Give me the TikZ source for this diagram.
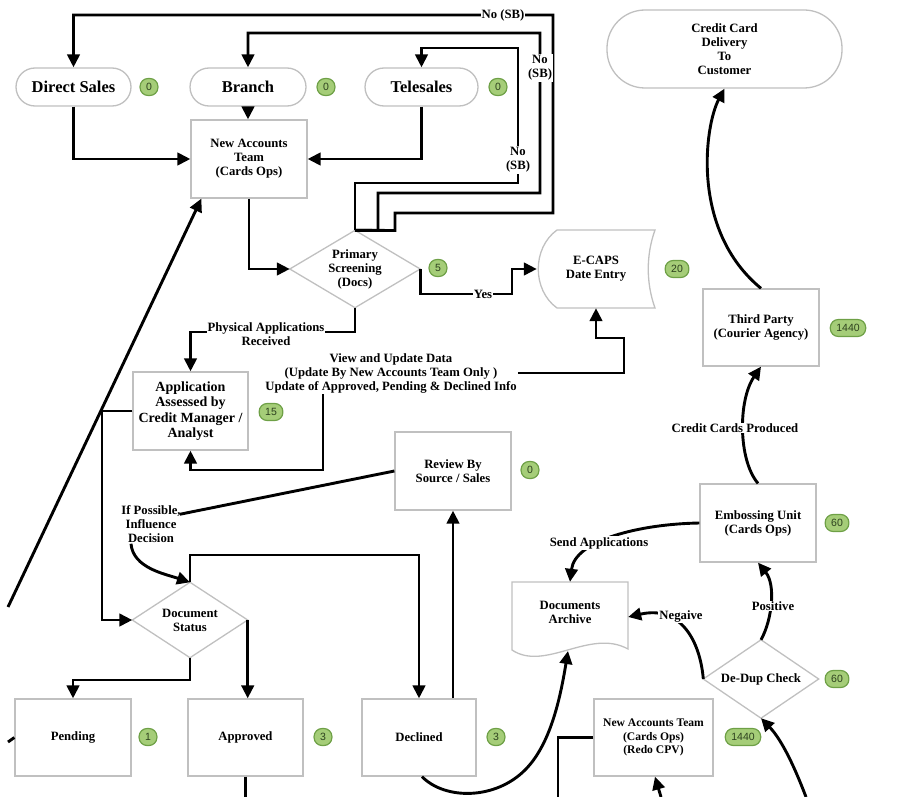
\documentclass[tikz,border=0pt]{standalone}
\usepackage{fontspec}
\setmainfont{Liberation Serif}
\newfontfamily\badgefont{Liberation Sans}
\usetikzlibrary{arrows.meta,calc}
\definecolor{boxgray}{RGB}{192,192,192}
\definecolor{badgefill}{RGB}{165,205,120}
\definecolor{badgeedge}{RGB}{110,160,70}
\definecolor{badgetext}{RGB}{45,65,30}
\tikzset{
  conn/.style={line width=2.9pt, draw=black},
  arr/.style={conn, -{Triangle[length=13pt,width=12.5pt]}},
  boxedge/.style={draw=boxgray, line width=1.3pt},
  stdbox/.style={rectangle, boxedge, fill=white, align=center, inner sep=2pt,
     minimum width=116pt, minimum height=78pt,
     font=\fontsize{12.7}{14}\selectfont\bfseries},
  termbox/.style={stdbox, rounded corners=19pt, minimum height=38pt,
     font=\fontsize{16.5}{18}\selectfont\bfseries},
  shapetext/.style={rectangle, draw=none, align=center, inner sep=0pt,
     font=\fontsize{12.7}{14}\selectfont\bfseries},
  badge/.style={draw=badgeedge, line width=1.2pt, fill=badgefill, rounded corners=8pt,
     minimum height=17pt, minimum width=17pt, inner xsep=6pt, inner ysep=0pt,
     font=\badgefont\fontsize{10.5}{11}\selectfont, text=badgetext},
  lbl/.style={fill=white, inner sep=1pt, align=center,
     font=\fontsize{12.7}{14}\selectfont\bfseries}
}
\begin{document}
\begin{tikzpicture}[x=1pt,y=-1pt]
\useasboundingbox (0,0) rectangle (907,797);

% ---------- terminals ----------
\node[termbox, minimum width=115pt] (ds) at (73.5,87) {Direct Sales};
\node[termbox, minimum width=116pt] (br) at (248,87) {Branch};
\node[termbox, minimum width=113pt] (ts) at (421.5,87) {Telesales};
\node[stdbox, minimum width=235pt, minimum height=78pt, rounded corners=38pt] (ccd) at (724.5,49) {Credit Card\\Delivery\\To\\Customer};

% ---------- boxes ----------
\node[stdbox] (nat) at (249,159) {New Accounts\\Team\\(Cards Ops)};
\node[stdbox, minimum height=77pt] (tp) at (761,327.5) {Third Party\\(Courier Agency)};
\node[stdbox, minimum width=115pt, font=\fontsize{14}{15.5}\selectfont\bfseries] (app) at (190.5,411) {Application\\Assessed by\\Credit Manager /\\Analyst};
\node[stdbox] (rev) at (453,471) {Review By\\Source / Sales};
\node[stdbox] (emb) at (758,523) {Embossing Unit\\(Cards Ops)};
\node[stdbox, minimum height=77pt] (pen) at (73,737.5) {Pending};
\node[stdbox, minimum width=115pt, minimum height=77pt] (apr) at (245.5,737.5) {Approved};
\node[stdbox, minimum width=114pt, minimum height=77pt] (dec) at (419,737.5) {Declined};
\node[stdbox, minimum width=119pt, minimum height=77pt, font=\fontsize{11.6}{13.5}\selectfont\bfseries] (redo) at (653.5,737.5) {New Accounts Team\\(Cards Ops)\\(Redo CPV)};

% ---------- diamonds ----------
\node[shapetext, minimum width=130pt, minimum height=77pt] (ps) at (355,269) {Primary\\Screening\\(Docs)};
\draw[boxedge] (ps.north) -- (ps.east) -- (ps.south) -- (ps.west) -- cycle;
\node[shapetext, minimum width=115pt, minimum height=75pt] (dst) at (190,620) {Document\\Status};
\draw[boxedge] (dst.north) -- (dst.east) -- (dst.south) -- (dst.west) -- cycle;
\node[shapetext, minimum width=115pt, minimum height=78pt] (ded) at (761,679) {De-Dup Check};
\draw[boxedge] (ded.north) -- (ded.east) -- (ded.south) -- (ded.west) -- cycle;

% ---------- stored data (E-CAPS) ----------
\node[shapetext, minimum width=118pt, minimum height=78pt] (ecaps) at (596,269) {E-CAPS\\Date Entry};
\draw[boxedge] (655,230) .. controls (646,255) and (646,283) .. (655,308) -- (557,308)
   .. controls (532,290) and (532,248) .. (557,230) -- cycle;

% ---------- document (Archive) ----------
\node[shapetext, minimum width=116pt, minimum height=60pt] (arch) at (570,612) {Documents\\Archive};
\draw[boxedge] (512,582) -- (628,582) -- (628,649) .. controls (590,628) and (545,672) .. (512,650) -- cycle;
\coordinate (archb) at (568,651);

% ---------- badges ----------
\node[badge] at (149,87) {0};
\node[badge] at (326,87) {0};
\node[badge] at (498,87) {0};
\node[badge] at (438,268) {5};
\node[badge] at (677,269) {20};
\node[badge] at (848,328) {1440};
\node[badge] at (271,412) {15};
\node[badge] at (530,470) {0};
\node[badge] at (837,523) {60};
\node[badge] at (837,679) {60};
\node[badge] at (148,737) {1};
\node[badge] at (323,737) {3};
\node[badge] at (496,737) {3};
\node[badge] at (743,737) {1440};

% ---------- connectors ----------
\draw[arr] (ds.south) |- (nat.west);
\draw[arr] (ts.south) |- (nat.east);
\draw[arr] (br.south) -- (br.south |- nat.north);
\draw[arr] (nat.south) |- (ps.west);

% No (SB) loops
\draw[arr] (ps.north) -- (355,183) -- (518,183) -- (518,48) -- (421.5,48) -- (ts.north);
\draw[arr] (ps.north) -- (378,230.5) -- (378,193) -- (540,193) -- (540,33) -- (248,33) -- (br.north);
\draw[arr] (ps.north) -- (395,230.5) -- (395,213) -- (553,213) -- (553,15) -- (73.5,15) -- (ds.north);

% Yes
\draw[arr] (ps.east) |- (512,294) |- (ecaps.west);

% Physical applications
\draw[arr] (ps.south) |- (190.5,332) -- (app.north);

% View and update
\node[lbl, fill=none] (upd) at (391,373) {View and Update Data\\(Update By New Accounts Team Only )\\Update of Approved, Pending \& Declined Info};
\draw[arr] (upd.east) -| (624,338) -| (ecaps.south);
\draw[arr] (upd.south -| 323,0) -- (323,470) -| (app.south);

% Application -> Document status
\draw[arr] (app.west) -- (102,411) |- (dst.west);

% Review -> influence
\node[lbl, fill=none, inner sep=0pt] (ifp) at (151,524) {If Possible,\\Influence\\Decision};
\draw[conn] (rev.west) -- ([xshift=-1pt,yshift=-9pt]ifp.north east);
\draw[arr] ([xshift=-20pt,yshift=-1pt]ifp.south) .. controls (133,568) and (165,574) .. (dst.north);

% Document status outputs
\draw[arr] (dst.north) |- (419,555) -- (dec.north);
\draw[arr] (dec.north -| rev.south) -- (rev.south);
\draw[arr] (dst.south) -- (dst.south |- 0,680) -| (pen.north);
\draw[arr] (dst.east) -- (dst.east |- apr.north);
\draw[conn] (apr.south) -- (apr.south |- 0,797);
\draw[conn] (pen.west) -- (8,742);

% Declined -> Archive
\draw[arr] ([xshift=3pt]dec.south) .. controls (445,800) and (495,800) .. (525,770)
   .. controls (550,745) and (560,700) .. (archb);

% Redo CPV
\draw[conn] (redo.west) -- (558,737.5) -- (558,797);
\coordinate (rb) at (661,797);
\draw[arr] (rb) -- ([xshift=1.5pt]redo.south);
\coordinate (db) at (806,797);
\draw[arr] (db) .. controls (795,768) and (782,740) .. (ded.south);

% De-dup outputs
\draw[arr] (ded.west) .. controls (700,640) and (680,605) .. ([yshift=-5pt]arch.east);
\draw[arr] (ded.north) .. controls (772,620) and (776,585) .. (emb.south);

% Embossing outputs
\draw[arr] (emb.west) .. controls (640,524) and (575,540) .. (arch.north);
\draw[arr] (emb.north) .. controls (738,460) and (738,400) .. (tp.south);

% Third party -> delivery
\draw[arr] (tp.north) .. controls (690,230) and (705,125) .. (ccd.south);

% long diagonal into New Accounts Team
\coordinate (ls) at (8,607);
\draw[arr] (ls) -- ([xshift=11pt]nat.south west);

% ---------- labels on connectors ----------
\node[lbl] at (503,15) {No (SB)};
\node[lbl] at (540,68) {No\\(SB)};
\node[lbl] at (518,160) {No\\(SB)};
\node[lbl] at (483,294) {Yes};
\node[lbl] at (266,334) {Physical Applications\\Received};
\node[lbl] at (681,616) {Negaive};
\node[lbl] at (773,606) {Positive};
\node[lbl] at (599,543) {Send Applications};
\node[lbl] at (735,428) {Credit Cards Produced};
\end{tikzpicture}
\end{document}
